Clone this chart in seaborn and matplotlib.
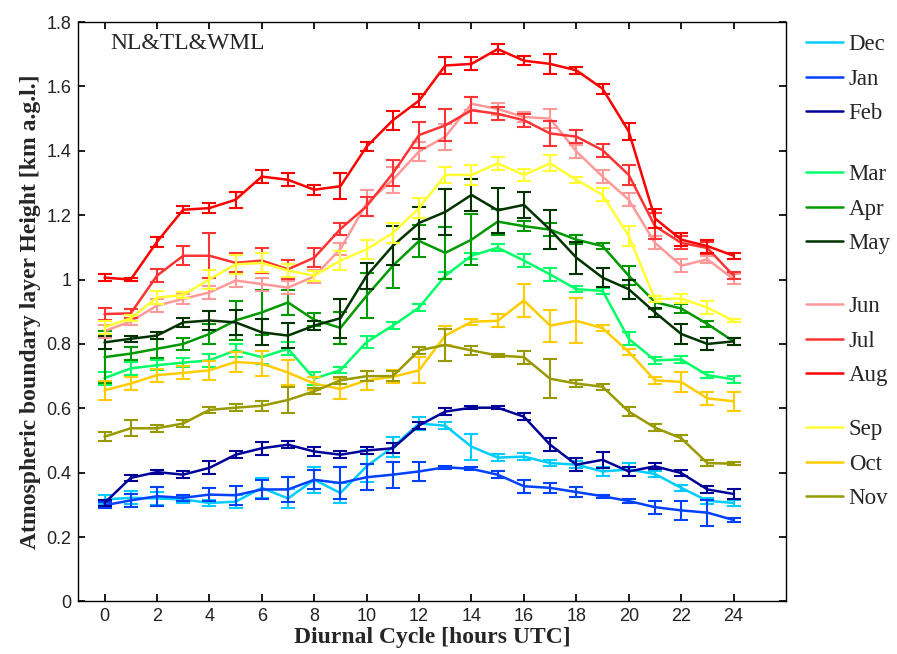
import matplotlib
matplotlib.use('Agg')
import matplotlib.pyplot as plt
from matplotlib.lines import Line2D
import numpy as np
import pandas as pd
import seaborn as sns

sns.set_theme(style='ticks')
plt.rcParams['font.family'] = ['Liberation Serif', 'DejaVu Serif']

hours = list(range(25))
months = ['Dec', 'Jan', 'Feb', 'Mar', 'Apr', 'May', 'Jun', 'Jul', 'Aug', 'Sep', 'Oct', 'Nov']
colors = ['#00CCFF', '#0040FF', '#000099', '#00FF66', '#009900', '#003300',
          '#FF9999', '#FF3333', '#FF0000', '#FFFF33', '#FFCC00', '#999900']

dec = [0.317, 0.322, 0.320, 0.317, 0.306, 0.310, 0.353, 0.320, 0.378, 0.337, 0.420, 0.480, 0.553,
       0.546, 0.481, 0.447, 0.450, 0.430, 0.425, 0.404, 0.410, 0.396, 0.353, 0.313, 0.306]
jan = [0.299, 0.314, 0.327, 0.322, 0.332, 0.330, 0.348, 0.348, 0.378, 0.368, 0.386, 0.394, 0.404,
       0.417, 0.412, 0.394, 0.358, 0.353, 0.340, 0.327, 0.312, 0.293, 0.283, 0.276, 0.253]
feb = [0.306, 0.384, 0.402, 0.394, 0.415, 0.456, 0.476, 0.487, 0.466, 0.456, 0.469, 0.476, 0.547,
       0.590, 0.602, 0.602, 0.574, 0.487, 0.425, 0.440, 0.404, 0.420, 0.399, 0.348, 0.334]
mar = [0.694, 0.724, 0.734, 0.742, 0.749, 0.780, 0.759, 0.785, 0.692, 0.719, 0.806, 0.857, 0.913,
       1.012, 1.074, 1.099, 1.059, 1.016, 0.970, 0.965, 0.816, 0.749, 0.752, 0.703, 0.690]
apr = [0.759, 0.770, 0.785, 0.800, 0.831, 0.873, 0.898, 0.929, 0.875, 0.850, 0.950, 1.043, 1.120,
       1.083, 1.124, 1.180, 1.166, 1.155, 1.124, 1.104, 1.012, 0.930, 0.910, 0.862, 0.808]
may = [0.805, 0.816, 0.826, 0.867, 0.873, 0.867, 0.836, 0.826, 0.857, 0.880, 1.012, 1.105, 1.176,
       1.210, 1.263, 1.215, 1.232, 1.155, 1.068, 1.006, 0.970, 0.898, 0.831, 0.800, 0.808]
jun = [0.840, 0.870, 0.919, 0.940, 0.960, 0.997, 0.986, 0.975, 1.010, 1.095, 1.237, 1.310, 1.398,
       1.444, 1.546, 1.530, 1.505, 1.500, 1.398, 1.320, 1.248, 1.114, 1.043, 1.063, 1.001]
jul = [0.893, 0.895, 1.012, 1.074, 1.074, 1.052, 1.059, 1.032, 1.068, 1.157, 1.228, 1.330, 1.449,
       1.479, 1.526, 1.515, 1.495, 1.454, 1.444, 1.402, 1.325, 1.166, 1.114, 1.098, 1.012]
aug = [1.006, 1.000, 1.117, 1.217, 1.222, 1.248, 1.320, 1.310, 1.279, 1.290, 1.413, 1.495, 1.556,
       1.665, 1.670, 1.716, 1.680, 1.670, 1.650, 1.593, 1.460, 1.190, 1.124, 1.104, 1.074]
sep = [0.852, 0.880, 0.944, 0.952, 1.001, 1.047, 1.052, 1.028, 1.012, 1.059, 1.094, 1.145, 1.222,
       1.325, 1.325, 1.361, 1.325, 1.361, 1.310, 1.263, 1.135, 0.939, 0.941, 0.913, 0.872]
oct_ = [0.656, 0.677, 0.703, 0.710, 0.718, 0.744, 0.739, 0.711, 0.677, 0.660, 0.687, 0.698, 0.718,
        0.826, 0.869, 0.872, 0.935, 0.857, 0.872, 0.849, 0.775, 0.687, 0.682, 0.631, 0.622]
nov = [0.512, 0.538, 0.538, 0.553, 0.595, 0.602, 0.608, 0.626, 0.653, 0.687, 0.700, 0.700, 0.780,
       0.797, 0.780, 0.764, 0.759, 0.692, 0.677, 0.667, 0.590, 0.540, 0.507, 0.430, 0.428]

dec_err = [0.015, 0.02, 0.02, 0.01, 0.01, 0.02, 0.03, 0.03, 0.04, 0.03, 0.05, 0.03, 0.02,
           0.01, 0.04, 0.01, 0.01, 0.01, 0.01, 0.015, 0.02, 0.01, 0.01, 0.01, 0.01]
jan_err = [0.01, 0.02, 0.03, 0.01, 0.02, 0.03, 0.03, 0.04, 0.03, 0.05, 0.04, 0.04, 0.03,
           0.005, 0.005, 0.01, 0.02, 0.015, 0.015, 0.005, 0.005, 0.02, 0.03, 0.04, 0.005]
feb_err = [0.01, 0.01, 0.005, 0.01, 0.02, 0.01, 0.02, 0.01, 0.015, 0.01, 0.01, 0.015, 0.01,
           0.01, 0.005, 0.005, 0.01, 0.02, 0.02, 0.025, 0.015, 0.01, 0.01, 0.01, 0.015]
mar_err = [0.02, 0.02, 0.015, 0.015, 0.02, 0.02, 0.02, 0.02, 0.02, 0.01, 0.02, 0.01, 0.01,
           0.01, 0.01, 0.01, 0.02, 0.02, 0.01, 0.01, 0.02, 0.01, 0.01, 0.01, 0.01]
apr_err = [0.08, 0.02, 0.03, 0.02, 0.03, 0.06, 0.07, 0.04, 0.02, 0.05, 0.07, 0.07, 0.05,
           0.08, 0.08, 0.04, 0.015, 0.02, 0.015, 0.01, 0.03, 0.02, 0.015, 0.01, 0.01]
may_err = [0.02, 0.01, 0.01, 0.015, 0.03, 0.04, 0.04, 0.04, 0.015, 0.06, 0.04, 0.06, 0.05,
           0.07, 0.05, 0.07, 0.04, 0.06, 0.05, 0.03, 0.03, 0.015, 0.03, 0.02, 0.01]
jun_err = [0.02, 0.01, 0.02, 0.015, 0.02, 0.02, 0.02, 0.02, 0.02, 0.02, 0.04, 0.04, 0.03,
           0.04, 0.02, 0.02, 0.015, 0.03, 0.02, 0.02, 0.02, 0.02, 0.02, 0.01, 0.015]
jul_err = [0.02, 0.015, 0.02, 0.03, 0.07, 0.03, 0.04, 0.03, 0.03, 0.02, 0.03, 0.04, 0.04,
           0.05, 0.04, 0.02, 0.02, 0.04, 0.02, 0.02, 0.03, 0.04, 0.02, 0.02, 0.01]
aug_err = [0.01, 0.005, 0.015, 0.01, 0.015, 0.025, 0.02, 0.02, 0.015, 0.04, 0.015, 0.03, 0.02,
           0.025, 0.02, 0.015, 0.015, 0.03, 0.01, 0.015, 0.025, 0.03, 0.02, 0.02, 0.01]
sep_err = [0.02, 0.01, 0.02, 0.01, 0.03, 0.03, 0.03, 0.02, 0.015, 0.03, 0.03, 0.03, 0.03,
           0.025, 0.03, 0.02, 0.02, 0.025, 0.01, 0.02, 0.03, 0.01, 0.015, 0.02, 0.005]
oct_err = [0.03, 0.02, 0.02, 0.02, 0.03, 0.03, 0.04, 0.04, 0.02, 0.03, 0.03, 0.02, 0.04,
           0.03, 0.01, 0.02, 0.05, 0.05, 0.07, 0.01, 0.01, 0.01, 0.03, 0.02, 0.03]
nov_err = [0.015, 0.025, 0.01, 0.01, 0.01, 0.01, 0.015, 0.04, 0.01, 0.01, 0.015, 0.015, 0.01,
           0.05, 0.015, 0.005, 0.02, 0.06, 0.01, 0.01, 0.015, 0.01, 0.01, 0.01, 0.005]

values = [dec, jan, feb, mar, apr, may, jun, jul, aug, sep, oct_, nov]
errors = [dec_err, jan_err, feb_err, mar_err, apr_err, may_err, jun_err, jul_err,
          aug_err, sep_err, oct_err, nov_err]

# long form: two observations per point (mean -/+ err) so the seaborn
# estimator gives the mean and the errorbar callable gives the span
rows = []
for m, v, e in zip(months, values, errors):
    for h, vv, ee in zip(hours, v, e):
        rows.append([m, h, vv - ee])
        rows.append([m, h, vv + ee])
df = pd.DataFrame(rows, columns=['month', 'hour', 'height'])

fig = plt.figure(figsize=(8.97, 6.54), dpi=100)
ax = fig.add_axes([0.0873, 0.0803, 0.789, 0.886])

sns.lineplot(data=df, x='hour', y='height', hue='month', hue_order=months,
             palette=colors, estimator='mean',
             errorbar=lambda s: (s.min(), s.max()),
             err_style='bars', err_kws={'capsize': 5, 'capthick': 1.5, 'elinewidth': 1.5},
             linewidth=1.8, legend=False, ax=ax)

ax.set_xlim(-1, 26)
ax.set_ylim(0, 1.8)
ax.set_xticks(range(0, 25, 2))
ax.set_yticks(np.arange(0, 1.81, 0.2))
ax.set_yticklabels(['0', '0.2', '0.4', '0.6', '0.8', '1', '1.2', '1.4', '1.6', '1.8'])
ax.tick_params(direction='in', top=True, right=True, length=5, pad=5, color='black')
for lab in ax.get_xticklabels() + ax.get_yticklabels():
    lab.set_family(['Liberation Sans', 'DejaVu Sans'])
    lab.set_fontsize(13)
    lab.set_color('#222222')
for s in ax.spines.values():
    s.set_color('black')
    s.set_linewidth(1.0)
ax.set_xlabel('Diurnal Cycle [hours UTC]', fontsize=17, fontweight='bold', labelpad=1)
ax.set_ylabel('Atmospheric boundary layer Height [km a.g.l.]', fontsize=17,
              fontweight='bold', labelpad=4)
ax.text(0.045, 0.963, 'NL&TL&WML', transform=ax.transAxes, fontsize=17, va='center')

# grouped legend to the right of the axes
groups = [(0, 0.9618), (3, 0.763), (6, 0.561), (9, 0.373)]
for start, ytop in groups:
    handles = [Line2D([], [], color=colors[i], lw=1.8) for i in range(start, start + 3)]
    fig.legend(handles, months[start:start + 3], loc='upper left',
               bbox_to_anchor=(0.8885, ytop), frameon=False, fontsize=16.5,
               handlelength=1.6, handletextpad=0.26, labelspacing=0.58,
               borderaxespad=0)

fig.savefig('out.png', dpi=100)
